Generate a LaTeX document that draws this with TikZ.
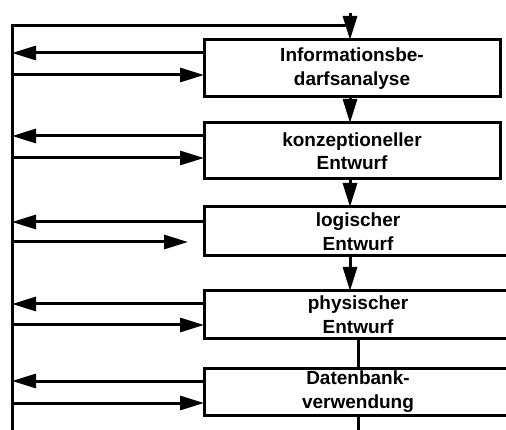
\documentclass[tikz,border=0pt]{standalone}
\usepackage{fontspec}
\setmainfont{Liberation Sans}
\usetikzlibrary{arrows.meta,calc}
\begin{document}
\begin{tikzpicture}[x=1pt,y=-1pt,
  every node/.style={font=\bfseries\fontsize{19}{23.5}\selectfont},
  phase/.style={draw, line width=3pt, align=center, inner sep=0pt, outer sep=0pt,
    anchor=north west, minimum width=296pt},
  openphase/.style={phase, minimum width=308pt},
  wire/.style={line width=3pt},
  arr/.style={line width=3pt, -{Triangle[length=24pt,width=14pt]}}]
\useasboundingbox (0,0) rectangle (506,430);
\clip (0,0) rectangle (506,430);

% phases of the design process
\node[phase, minimum height=57pt] (b1) at (204,40) {Informationsbe-\\darfsanalyse};
\node[phase, minimum height=56pt] (b2) at (204,123) {konzeptioneller\\Entwurf};
\node[openphase, minimum height=49pt] (b3) at (204,207) {logischer\\Entwurf};
\node[openphase, minimum height=47pt] (b4) at (204,291) {physischer\\Entwurf};
\node[openphase, minimum height=47pt] (b5) at (204,368) {Datenbank-\\verwendung};

% feedback rail on the left
\coordinate (railbot) at (12,432);
\coordinate (railtop) at (12,26);
\coordinate (railend) at (350,26);
\coordinate (entry) at (350,13);
\draw[wire] (railbot) -- (railtop) -- (railend);
\draw[arr] (entry) -- (b1.north -| entry);

% forward flow between phases
\draw[arr] (b1.south -| entry) -- (b2.north -| entry);
\draw[arr] (b2.south -| entry) -- (b3.north -| entry);
\draw[arr] (b3.south -| entry) -- (b4.north -| entry);
\draw[wire] (b4.south) -- (b5.north);
\coordinate (outflow) at (358,432);
\draw[wire] (b5.south) -- (b5.south |- outflow);

% back and forth arrows between rail and phases
\coordinate (l1a) at (12,53);  \coordinate (l1b) at (12,75);
\coordinate (l2a) at (12,136); \coordinate (l2b) at (12,158);
\coordinate (l3a) at (12,222); \coordinate (l3b) at (12,242);
\coordinate (l4a) at (12,304); \coordinate (l4b) at (12,325);
\coordinate (l5a) at (12,381); \coordinate (l5b) at (12,403);

\draw[arr] (b1.west |- l1a) -- (l1a);
\draw[arr] (l1b) -- (b1.west |- l1b);
\draw[arr] (b2.west |- l2a) -- (l2a);
\draw[arr] (l2b) -- (b2.west |- l2b);
\draw[arr] (b3.west |- l3a) -- (l3a);
\draw[arr] (l3b) -- ($(b3.west |- l3b)+(-16,0)$);
\draw[arr] (b4.west |- l4a) -- (l4a);
\draw[arr] (l4b) -- (b4.west |- l4b);
\draw[arr] (b5.west |- l5a) -- (l5a);
\draw[arr] (l5b) -- (b5.west |- l5b);
\end{tikzpicture}
\end{document}
